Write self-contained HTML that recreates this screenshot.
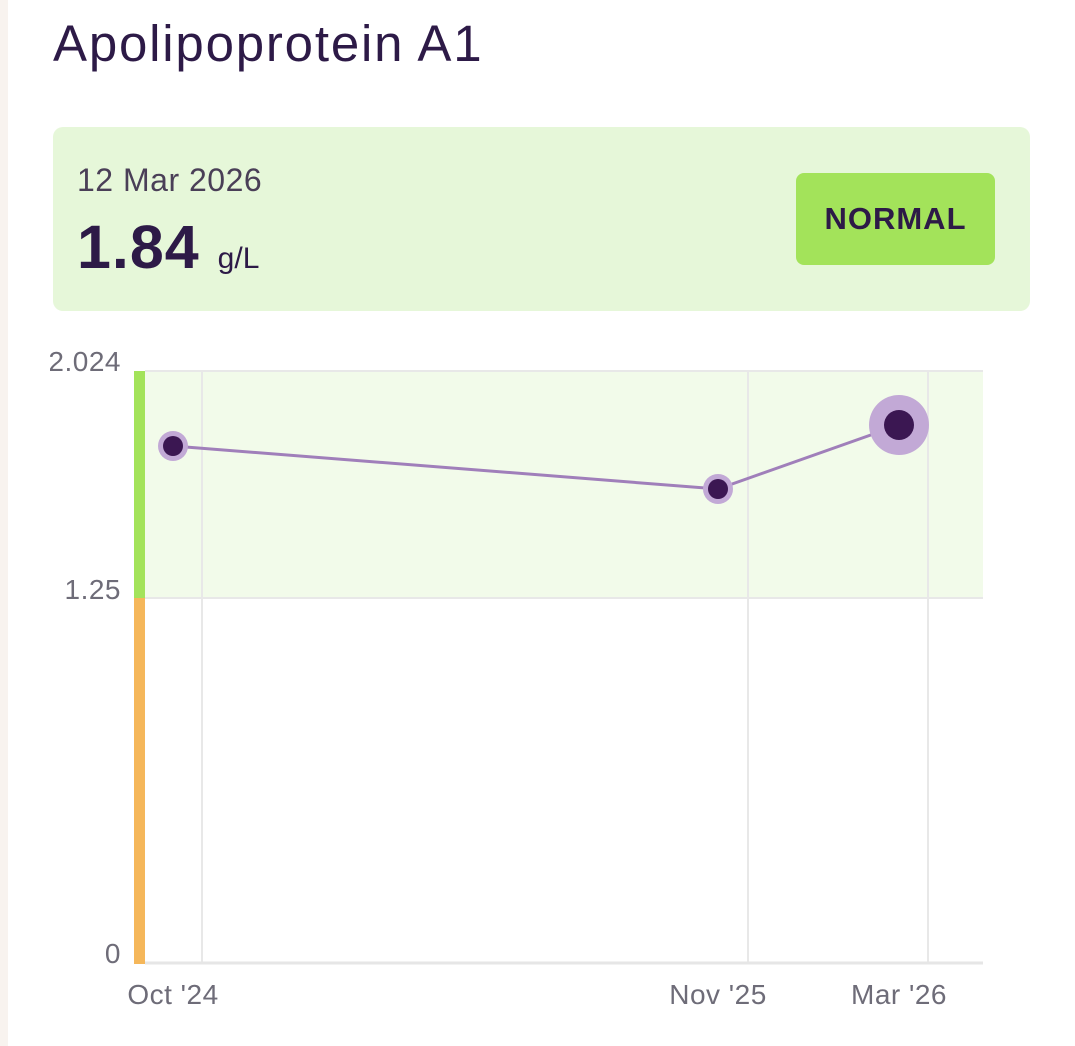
<!DOCTYPE html>
<html><head><style>
body{margin:0;width:1075px;height:1046px;background:#fff;font-family:"Liberation Sans",sans-serif;position:relative;overflow:hidden}
.t{position:absolute;color:#2d1a47}
</style></head><body>
<div class="t" style="left:53px;top:14px;font-size:51px;font-weight:500;letter-spacing:1.8px">Apolipoprotein A1</div>
<div style="position:absolute;left:53px;top:127px;width:977px;height:184px;background:#e6f7d9;border-radius:10px"></div>
<div class="t" style="left:77px;top:162px;font-size:32px;color:#4a3f57;letter-spacing:0.5px">12 Mar 2026</div>
<div class="t" style="left:77px;top:212px;font-size:61px;font-weight:bold;letter-spacing:1px">1.84 <span style="font-size:30px;font-weight:normal;letter-spacing:0">g/L</span></div>
<div style="position:absolute;left:796px;top:173px;width:199px;height:92px;background:#a3e35a;border-radius:8px;color:#2d1a47;font-size:31px;font-weight:bold;text-align:center;line-height:92px;letter-spacing:1px">NORMAL</div>
<svg width="1075" height="1046" style="position:absolute;left:0;top:0">
<rect x="145" y="371" width="838" height="227" fill="#f2fbea"/>
<g stroke="#e8e8e8" stroke-width="2">
<line x1="145" y1="371" x2="983" y2="371"/>
<line x1="145" y1="598" x2="983" y2="598"/>
<line x1="202" y1="371" x2="202" y2="963"/>
<line x1="748" y1="371" x2="748" y2="963"/>
<line x1="928" y1="371" x2="928" y2="963"/>
</g>
<line x1="145" y1="963" x2="983" y2="963" stroke="#e6e6e6" stroke-width="3"/>
<rect x="134" y="371" width="11" height="227" fill="#a3e35a"/>
<rect x="134" y="598" width="11" height="366" fill="#f5b75a"/>
<g font-size="28" fill="#6e6c78" text-anchor="end" letter-spacing="0.5">
<text x="121" y="371">2.024</text>
<text x="121" y="599">1.25</text>
<text x="121" y="963">0</text>
</g>
<rect x="0" y="340" width="50" height="40" fill="#fff"/>
<rect x="0" y="0" width="8" height="1046" fill="#f8f3ef"/>
<g font-size="28" fill="#6e6c78" text-anchor="middle" letter-spacing="0.5">
<text x="173" y="1004">Oct '24</text>
<text x="718" y="1004">Nov '25</text>
<text x="899" y="1004">Mar '26</text>
</g>
<polyline points="173,446 718,489 899,425" fill="none" stroke="#a07fba" stroke-width="3"/>
<circle cx="173" cy="446" r="15" fill="#c2a9d6"/><circle cx="173" cy="446" r="10" fill="#3b1752"/>
<circle cx="718" cy="489" r="15" fill="#c2a9d6"/><circle cx="718" cy="489" r="10" fill="#3b1752"/>
<circle cx="899" cy="425" r="30" fill="#c2a9d6"/><circle cx="899" cy="425" r="15" fill="#3b1752"/>
</svg>
</body></html>
